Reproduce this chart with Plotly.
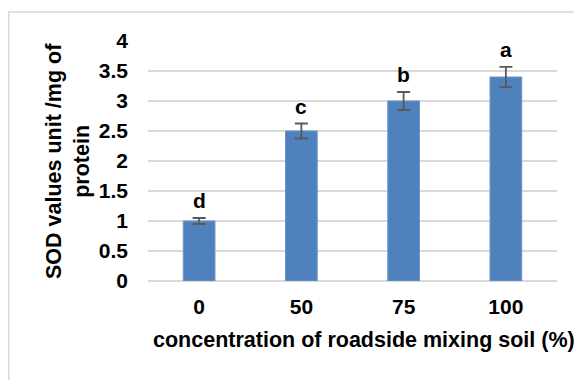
import plotly.graph_objects as go

categories = ["0", "50", "75", "100"]
values = [1.0, 2.5, 3.0, 3.4]
errors = [0.05, 0.125, 0.15, 0.17]
letters = ["d", "c", "b", "a"]
y_ticks = [0, 0.5, 1, 1.5, 2, 2.5, 3, 3.5, 4]

FONT = "Liberation Sans, Arial, sans-serif"

# page is offset by 8px body margin; figure coords = page coords - 8
PL, PR, PT, PB = 140, 549, 33, 273
PW, PH = PR - PL, PB - PT

fig = go.Figure()
fig.add_trace(go.Bar(
    x=categories, y=values,
    width=0.31,
    marker=dict(color="#4f81bd", line=dict(color="#6a95c9", width=1)),
    error_y=dict(type="data", array=errors, visible=True,
                 color="#595959", thickness=1.8, width=6.5),
))

for i, (v, e, l) in enumerate(zip(values, errors, letters)):
    fig.add_annotation(x=i, y=v + e, text=f"<b>{l}</b>", showarrow=False,
                       yanchor="bottom", yshift=4,
                       font=dict(family=FONT, size=21, color="black"))

fig.add_annotation(xref="paper", yref="paper", x=(60 - PL) / PW, y=0.5,
                   xanchor="center", yanchor="middle",
                   text="<b>SOD values unit /mg of<br>protein</b>",
                   textangle=-90, showarrow=False,
                   font=dict(family=FONT, size=21.5, color="black"))

fig.add_annotation(xref="paper", yref="paper", x=(356 - PL) / PW,
                   y=(PB - 332) / PH, xanchor="center", yanchor="middle",
                   text="<b>concentration of roadside mixing soil (%)</b>",
                   showarrow=False,
                   font=dict(family=FONT, size=21.5, color="black"))

fig.add_shape(type="rect", xref="paper", yref="paper",
              x0=(0.75 - PL) / PW, x1=(600 - PL) / PW,
              y0=(PB - 400) / PH, y1=(PB - 4) / PH,
              line=dict(color="#d9d9d9", width=1.5), layer="below")

fig.update_layout(
    width=574, height=372,
    margin=dict(l=PL, r=574 - PR, t=PT, b=372 - PB),
    paper_bgcolor="white", plot_bgcolor="white",
    showlegend=False,
    font=dict(family=FONT, size=21, color="black"),
    xaxis=dict(
        type="category", range=[-0.5, 3.5],
        tickfont=dict(family=FONT, size=21, color="black"),
        tickprefix="<b>", ticksuffix="</b>",
        showline=False, showgrid=False, ticks="",
        ticklabelstandoff=11,
    ),
    yaxis=dict(
        range=[0, 4], tickvals=y_ticks,
        ticktext=[f"<b>{t:g}</b>" for t in y_ticks],
        tickfont=dict(family=FONT, size=21, color="black"),
        showgrid=True, gridcolor="#d9d9d9", gridwidth=1.5,
        zeroline=True, zerolinecolor="#d9d9d9", zerolinewidth=1.5,
        showline=False, ticks="", ticklabelstandoff=19,
    ),
)

fig.write_html("out.html")
